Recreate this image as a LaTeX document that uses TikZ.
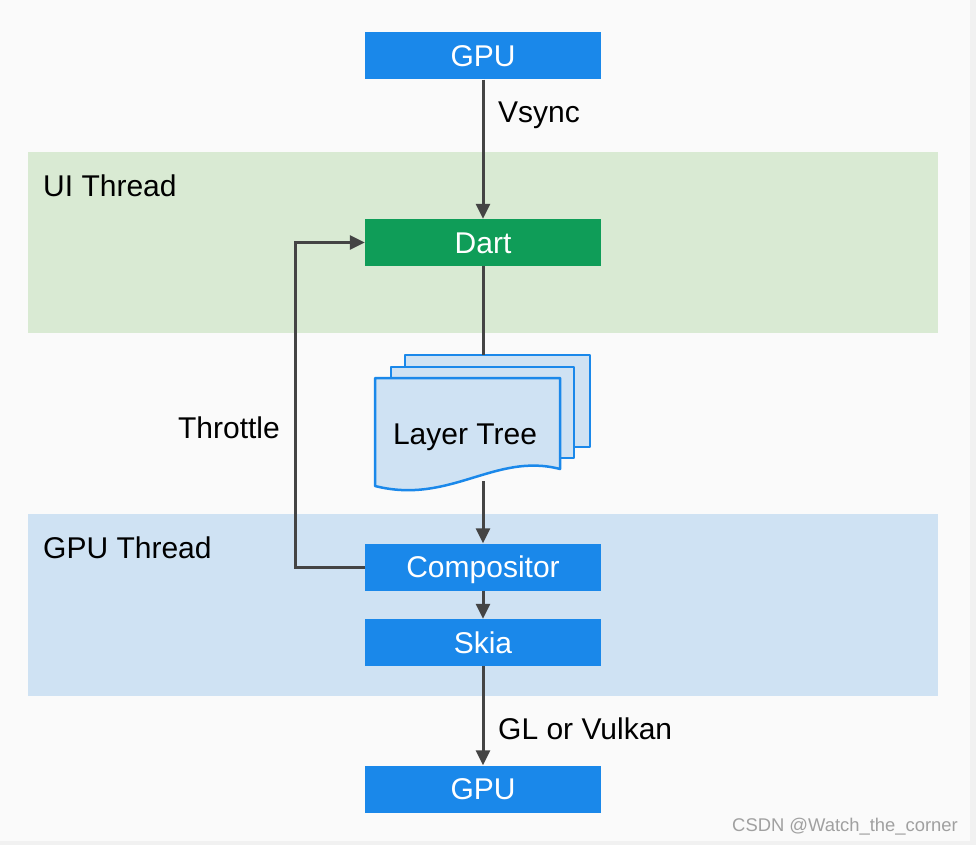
\documentclass[tikz,border=0pt]{standalone}
\usepackage{fontspec}
\setmainfont{Liberation Sans}
\usetikzlibrary{arrows.meta}
\definecolor{bgcol}{HTML}{FAFAFA}
\definecolor{edgecol}{HTML}{F1F1F1}
\definecolor{boxblue}{HTML}{1A88EA}
\definecolor{boxgreen}{HTML}{0F9D58}
\definecolor{uiband}{HTML}{D9EAD3}
\definecolor{gpuband}{HTML}{CFE2F3}
\definecolor{arrowcol}{HTML}{444444}
\definecolor{pagefill}{HTML}{CFE2F3}
\definecolor{wmcol}{HTML}{A0A0A0}
\tikzset{
  boxnode/.style={fill=#1, text=white, minimum width=236pt, minimum height=47pt, inner sep=0pt, text height=21.5pt, text depth=0pt, font=\fontsize{30}{30}\selectfont},
  band/.style={fill=#1, draw=none},
  conn/.style={draw=arrowcol, line width=3pt, -{Triangle[length=15pt,width=14pt]}},
  plainconn/.style={draw=arrowcol, line width=3pt},
  lbl/.style={font=\fontsize{30}{30}\selectfont, inner sep=0pt, text=black, text height=21.5pt, text depth=0pt},
  pagestyle/.style={fill=pagefill, draw=boxblue, line width=2.5pt, line join=round}
}
\begin{document}
\begin{tikzpicture}[x=1pt,y=-1pt]
\useasboundingbox (0,0) rectangle (976,845);
\fill[edgecol] (0,0) rectangle (976,845);
\fill[bgcol] (0,0) rectangle (970,841);
% bands
\fill[band=uiband] (28,152) rectangle (938,333);
\fill[band=gpuband] (28,514) rectangle (938,696);
\node[lbl, anchor=west] (uilbl) at (43,186) {UI Thread};
\node[lbl, anchor=west] (gpulbl) at (43,548) {GPU Thread};
% boxes
\node[boxnode=boxblue] (gputop) at (483,56) {GPU};
\node[boxnode=boxgreen] (dart) at (483,242.5) {Dart};
\node[boxnode=boxblue] (comp) at (483,567) {Compositor};
\node[boxnode=boxblue] (skia) at (483,642.5) {Skia};
\node[boxnode=boxblue] (gpubot) at (483,789) {GPU};
% layer tree pages
\coordinate (backtop) at (483,355);
\path[pagestyle] (405,355) -- (590,355) -- (590,447) -- (405,447) -- cycle;
\path[pagestyle] (391,367) -- (574,367) -- (574,458) -- (391,458) -- cycle;
\path[pagestyle] (375,378) -- (560,378) -- (560,469)
  .. controls (495,452) and (450,505) .. (375,486) -- cycle;
\node[lbl, anchor=center] (layer) at (465,434) {Layer Tree};
\coordinate (ltbottom) at (483,481);
% connectors
\draw[conn] (gputop.south) -- (dart.north);
\node[lbl, anchor=west] (vsync) at (498,112) {Vsync};
\draw[plainconn] (dart.south) -- (backtop);
\draw[conn] (ltbottom) -- (comp.north);
\draw[conn] (comp.south) -- (skia.north);
\draw[conn] (skia.south) -- (gpubot.north);
\node[lbl, anchor=west] (glv) at (498,729) {GL or Vulkan};
\draw[conn] (comp.west) -- (295,567) -- (295,242.5) -- (dart.west);
\node[lbl, anchor=east] (throttle) at (280,428) {Throttle};
% watermark
\node[font=\fontsize{18.4}{18.4}\selectfont, text=wmcol, anchor=east, inner sep=0pt] (wm) at (958,827) {CSDN @Watch\_the\_corner};
\end{tikzpicture}
\end{document}
